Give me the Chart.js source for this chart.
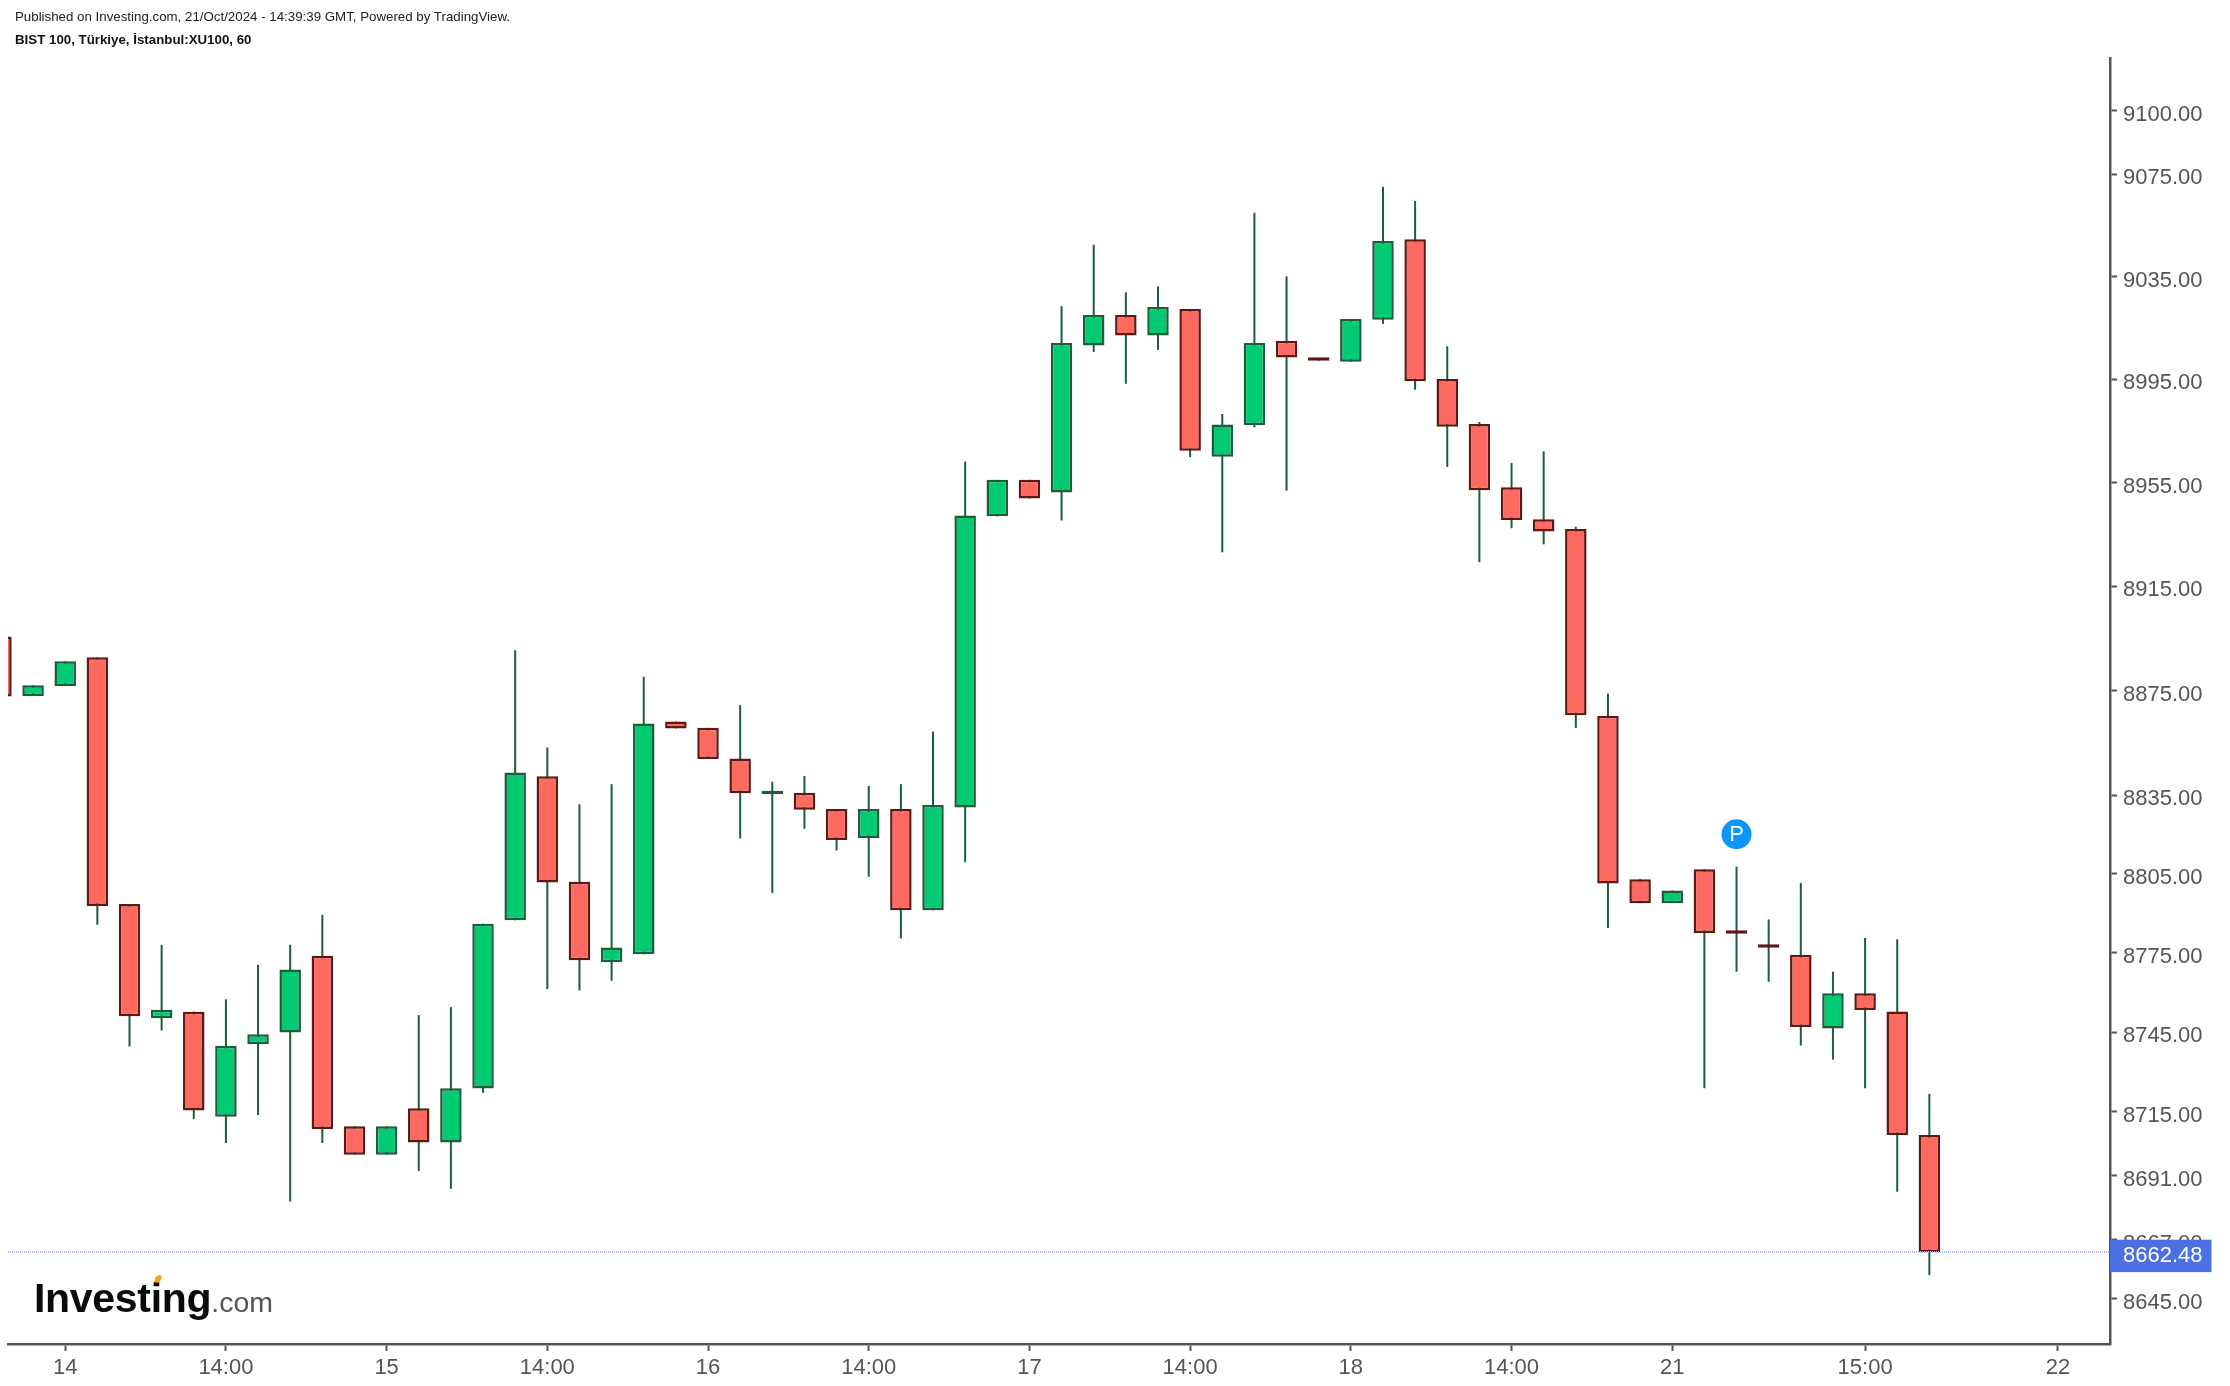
<!DOCTYPE html>
<html>
<head>
<meta charset="utf-8">
<title>BIST 100</title>
<script src="https://cdn.jsdelivr.net/npm/chart.js@4"></script>
<style>
  html, body { margin: 0; padding: 0; background: #fff; }
  body { position: relative; width: 2230px; height: 1386px; overflow: hidden; font-family: "Liberation Sans", Arial, sans-serif; }
  canvas { display: block; }
  .head { position: absolute; left: 15px; font-size: 13.3px; line-height: 16px; color: #222; white-space: nowrap; }
  #logo { position: absolute; left: 34px; top: 1270px; white-space: nowrap; line-height: 56px; color: #0a0a0a; font-weight: bold; font-size: 41px; letter-spacing: -0.3px; }
  #logo span { font-weight: normal; font-size: 28.5px; color: #555; letter-spacing: 0; }
  #leaf { position: absolute; left: 155px; top: 1275px; width: 6px; height: 8px; background: #f7a21b; border-radius: 60% 10% 60% 10%; transform: rotate(15deg); }
</style>
</head>
<body>
<canvas id="myChart" width="2230" height="1386"></canvas>
<div class="head" style="top:9px">Published on Investing.com, 21/Oct/2024 - 14:39:39 GMT, Powered by TradingView.</div>
<div class="head" style="top:32px;font-weight:bold;color:#111">BIST 100, Türkiye, İstanbul:XU100, 60</div>
<div id="logo">Investing<span>.com</span></div>
<div id="leaf"></div>
<script>
const open = [8895.7, 8872.9, 8876.7, 8887.8, 8793.6, 8750.3, 8752.8, 8713.2, 8740.5, 8744.9, 8773.9,
  8709.6, 8698.9, 8716.4, 8703.5, 8723.8, 8787.4, 8842.2, 8802.0, 8771.5, 8774.5,
  8863.1, 8860.7, 8849.0, 8835.3, 8835.9, 8829.7, 8818.7, 8829.7, 8791.2, 8830.3,
  8942.0, 8956.1, 8951.2, 9008.2, 9020.1, 9012.1, 9022.4, 8965.0, 8977.3, 9010.0,
  9002.8, 9001.9, 9018.2, 9049.6, 8995.2, 8977.7, 8953.2, 8940.9, 8937.1, 8865.3,
  8803.0, 8793.9, 8806.8, 8782.7, 8777.3, 8774.3, 8746.4, 8759.8, 8752.9, 8706.3]
const close = [8872.7, 8877.0, 8886.2, 8792.8, 8751.1, 8753.5, 8715.5, 8739.9, 8744.3, 8768.7, 8708.6,
  8698.9, 8709.6, 8703.5, 8723.9, 8786.1, 8843.6, 8801.7, 8772.2, 8777.1, 8862.4,
  8860.5, 8848.8, 8835.7, 8835.7, 8829.4, 8817.9, 8829.7, 8791.2, 8831.2, 8942.3,
  8956.1, 8948.9, 9009.2, 9020.1, 9012.1, 9023.2, 8967.3, 8977.5, 9009.2, 9003.5,
  9002.3, 9018.5, 9048.9, 8994.3, 8976.6, 8952.1, 8940.6, 8936.1, 8865.5, 8801.4,
  8793.9, 8798.7, 8782.6, 8782.3, 8777.0, 8747.0, 8759.8, 8753.4, 8706.3, 8662.48]
const high = [8895.7, 8877.0, 8886.2, 8887.8, 8793.6, 8778.1, 8752.8, 8757.5, 8770.5, 8778.1, 8789.5,
  8709.6, 8709.6, 8751.5, 8754.5, 8786.1, 8890.4, 8853.2, 8831.5, 8839.2, 8880.3,
  8863.1, 8860.7, 8869.4, 8840.1, 8842.3, 8829.7, 8838.5, 8839.2, 8859.3, 8963.2,
  8956.1, 8956.1, 9023.5, 9047.5, 9028.9, 9031.2, 9022.4, 8981.6, 9060.0, 9035.1,
  9002.8, 9018.5, 9070.1, 9064.6, 9007.9, 8978.5, 8962.6, 8967.1, 8938.0, 8873.8,
  8803.0, 8798.7, 8806.8, 8807.8, 8787.7, 8801.6, 8767.9, 8780.7, 8780.2, 8721.8]
const low = [8872.7, 8872.9, 8876.7, 8785.7, 8739.6, 8745.7, 8712.3, 8703.3, 8713.8, 8681.3, 8703.3,
  8698.9, 8698.9, 8692.8, 8686.1, 8722.2, 8787.4, 8761.3, 8760.8, 8764.5, 8774.5,
  8860.5, 8848.8, 8818.5, 8797.7, 8822.2, 8813.9, 8803.9, 8780.5, 8791.2, 8809.4,
  8942.0, 8948.9, 8940.4, 9005.7, 8993.3, 9006.5, 8964.9, 8928.1, 8976.4, 8951.9,
  9002.3, 9001.9, 9016.6, 8991.0, 8961.1, 8924.3, 8937.4, 8931.2, 8860.7, 8784.5,
  8793.9, 8793.9, 8723.9, 8767.9, 8764.1, 8740.0, 8734.7, 8723.9, 8685.0, 8653.8]

// one slot per hourly bar, going on past the last candle up to the 22nd
const xLabels = ['', '', '14', '', '', '', '', '14:00', '', '', '', '', '15', '', '', '', '', '14:00', '', '', '', '',
  '16', '', '', '', '', '14:00', '', '', '', '', '17', '', '', '', '', '14:00', '', '', '', '', '18', '', '', '', '',
  '14:00', '', '', '', '', '21', '', '', '', '', '', '15:00', '', '', '', '', '', '22']
const yTicks = [9100, 9075, 9035, 8995, 8955, 8915, 8875, 8835, 8805, 8775, 8745, 8715, 8691, 8667, 8645]
const lastPrice = 8662.48
const markerIndex = 54
const markerPrice = 8820.1

const upFill = '#00ca72', downFill = '#ff6a60'
const upLine = '#1d5c3e', downLine = '#5c1a16'
const axisGrey = '#555555'
const lastLine = '#aebdf5'
const font = { family: '"Liberation Sans", Arial, sans-serif', size: 22 }

const xMin = 0.22, xMax = 65.62

const rows = open.map((_, i) => i)
const isUp = i => close[i] >= open[i]

const markerText = {
  id: 'markerText',
  afterDatasetsDraw(chart) {
    const { x, y } = chart.scales
    const c = chart.ctx
    c.save()
    c.fillStyle = '#fff'
    c.font = '22px "Liberation Sans", Arial, sans-serif'
    c.textAlign = 'center'
    c.textBaseline = 'middle'
    c.fillText('P', x.getPixelForValue(markerIndex), y.getPixelForValue(markerPrice) + 1)
    c.restore()
  }
}

new Chart(document.getElementById('myChart'), {
  type: 'bar',
  plugins: [markerText],
  data: {
    datasets: [{
      label: 'wick',
      order: 3,
      grouped: false,
      barThickness: 2,
      backgroundColor: upLine,
      borderWidth: 0,
      inflateAmount: 0,
      data: rows.map(i => ({ x: i, y: [low[i], high[i]] }))
    }, {
      label: 'XU100',
      order: 2,
      grouped: false,
      barThickness: 21.5,
      minBarLength: 3.5,
      borderWidth: 2.5,
      borderSkipped: false,
      inflateAmount: 0,
      backgroundColor: ctx => isUp(ctx.dataIndex) ? upFill : downFill,
      borderColor: ctx => isUp(ctx.dataIndex) ? upLine : downLine,
      data: rows.map(i => ({ x: i, y: [open[i], close[i]] }))
    }, {
      type: 'line',
      label: 'last',
      order: 1,
      borderColor: lastLine,
      borderWidth: 2,
      borderDash: [1, 1],
      pointRadius: 0,
      data: [{ x: xMin, y: lastPrice }, { x: xMax, y: lastPrice }]
    }, {
      type: 'line',
      label: 'marker',
      order: 0,
      showLine: false,
      pointRadius: 15,
      pointBackgroundColor: '#0d96fa',
      pointBorderWidth: 0,
      data: [{ x: markerIndex, y: markerPrice }]
    }]
  },
  options: {
    responsive: false,
    animation: false,
    events: [],
    layout: { autoPadding: false, padding: { left: 8, top: 58, right: 0, bottom: 0 } },
    plugins: { legend: { display: false }, tooltip: { enabled: false } },
    scales: {
      x: {
        type: 'linear',
        offset: false,
        min: xMin,
        max: xMax,
        afterBuildTicks(scale) {
          scale.ticks = xLabels.map((t, i) => ({ value: i, label: t })).filter(t => t.label)
        },
        afterFit(scale) {
          scale.height = 42
          scale.paddingLeft = 0
          scale.paddingRight = 0
        },
        border: { color: axisGrey, width: 2.5 },
        grid: { drawOnChartArea: false, offset: false, color: axisGrey, tickColor: axisGrey, tickWidth: 2, tickLength: 7 },
        ticks: {
          autoSkip: false,
          maxRotation: 0,
          padding: 4,
          color: axisGrey,
          font,
          callback: value => xLabels[value]
        }
      },
      y: {
        type: 'logarithmic',
        position: 'right',
        min: 8628.1,
        max: 9120.7,
        afterBuildTicks(scale) {
          scale.ticks = yTicks.concat(lastPrice).map(value => ({ value }))
        },
        afterFit(scale) {
          scale.width = 120
          scale.paddingTop = 0
          scale.paddingBottom = 0
        },
        border: { color: axisGrey, width: 2.5 },
        grid: {
          drawOnChartArea: false,
          color: axisGrey,
          tickColor: ctx => ctx.tick.value === lastPrice ? lastLine : axisGrey,
          tickWidth: 2,
          tickLength: 7
        },
        ticks: {
          autoSkip: false,
          padding: 6,
          labelOffset: 4,
          font,
          color: ctx => ctx.tick.value === lastPrice ? '#ffffff' : axisGrey,
          showLabelBackdrop: ctx => ctx.tick.value === lastPrice,
          backdropColor: '#4a70e4',
          backdropPadding: { top: 3, bottom: 3, left: 14, right: 9 },
          callback: value => value.toFixed(2)
        }
      }
    }
  }
})
</script>
</body>
</html>
